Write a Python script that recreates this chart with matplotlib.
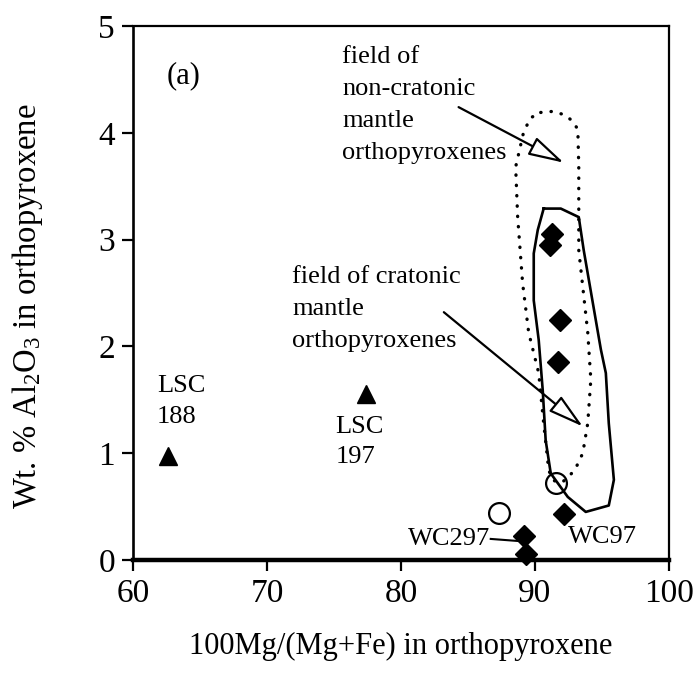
import matplotlib
matplotlib.use("Agg")
from matplotlib import pyplot as plt

plt.rcParams['font.family'] = ['Liberation Serif', 'DejaVu Serif']
plt.rcParams['mathtext.fontset'] = 'custom'
plt.rcParams['mathtext.rm'] = 'Liberation Serif'
plt.rcParams['mathtext.it'] = 'Liberation Serif:italic'

# orthopyroxene analyses: Mg# vs Al2O3 (wt.%)
diamond_mg = [91.3, 91.1, 91.9, 91.7, 92.2, 89.2, 89.3]
diamond_al = [3.05, 2.95, 2.25, 1.85, 0.43, 0.22, 0.06]
circle_mg = [87.3, 91.6]
circle_al = [0.44, 0.72]
triangle_mg = [62.6, 77.4]
triangle_al = [0.97, 1.55]

# outline of the cratonic mantle orthopyroxene field (solid)
craton_mg = [90.65, 91.93, 93.27, 93.64, 94.92, 95.29, 95.51, 95.89, 95.51,
             93.79, 92.45, 91.18, 90.80, 90.58, 90.28, 89.91, 89.91, 90.21, 90.65]
craton_al = [3.29, 3.29, 3.21, 2.90, 1.97, 1.75, 1.28, 0.75, 0.51,
             0.45, 0.59, 0.81, 1.12, 1.59, 2.06, 2.43, 2.87, 3.09, 3.29]

# outline of the non-cratonic mantle orthopyroxene field (dotted)
noncraton_mg = [90.43, 91.33, 92.15, 92.82, 93.20, 93.27, 93.27, 93.94, 94.17,
                93.94, 93.57, 93.12, 92.67, 92.15, 91.78, 91.33, 91.03, 90.65,
                90.28, 89.53, 89.08, 88.71, 88.56, 89.16, 89.68, 90.43]
noncraton_al = [4.19, 4.20, 4.17, 4.11, 4.03, 3.68, 2.90, 2.13, 1.69,
                1.28, 1.00, 0.88, 0.80, 0.74, 0.72, 0.75, 0.84, 1.28,
                1.75, 2.13, 2.59, 3.21, 3.68, 4.01, 4.14, 4.19]

fig = plt.figure(figsize=(6.94, 6.92), dpi=100)
ax = fig.add_axes([0.1916, 0.1908, 0.7723, 0.7717])

ax.plot(craton_mg, craton_al, color='black', lw=1.9, zorder=2)
ax.plot(noncraton_mg, noncraton_al, color='black', lw=2.4,
        linestyle=(0, (0.1, 3.0)), dash_capstyle='round', zorder=2)

ax.plot(diamond_mg, diamond_al, 'D', color='black', ms=11.5, zorder=5, clip_on=False)
ax.plot(circle_mg, circle_al, 'o', mfc='none', mec='black', mew=1.6, ms=15, zorder=5)
ax.plot(triangle_mg, triangle_al, '^', color='black', ms=13, zorder=5)


def block(x, y0, lines, step=0.3, size=19):
    # one text line per baseline, stepping down
    for i, s in enumerate(lines):
        ax.text(x, y0 - i * step, s, fontsize=size, va='baseline')


fs = 19
ax.text(62.5, 4.46, '(a)', fontsize=22, va='baseline')
block(75.6, 4.65, ['field of', 'non-cratonic', 'mantle', 'orthopyroxenes'])
block(71.9, 2.59, ['field of cratonic', 'mantle', 'orthopyroxenes'])
block(61.8, 1.57, ['LSC', '188'], step=0.29)
block(75.1, 1.19, ['LSC', '197'], step=0.28)
ax.text(80.55, 0.14, 'WC297', fontsize=fs, va='baseline')
ax.text(92.45, 0.16, 'WC97', fontsize=fs, va='baseline')
ax.plot([86.7, 88.7], [0.197, 0.178], color='black', lw=1.5)

arrow = dict(arrowstyle='-|>,head_length=1.1,head_width=0.3', mutation_scale=20,
             fc='white', ec='black', lw=1.6, shrinkA=0, shrinkB=0)
ax.annotate('', xy=(92.15, 3.72), xytext=(84.3, 4.24), arrowprops=arrow)
ax.annotate('', xy=(93.57, 1.25), xytext=(83.2, 2.32), arrowprops=arrow)

ax.set_xlim(60, 100)
ax.set_ylim(0, 5)
ax.set_xticks([60, 70, 80, 90, 100])
ax.set_yticks([0, 1, 2, 3, 4, 5])
ax.tick_params(direction='out', length=8, width=1.6, labelsize=24, pad=5)

for side in ['top', 'right']:
    ax.spines[side].set_linewidth(1.6)
ax.spines['left'].set_linewidth(1.9)
ax.spines['bottom'].set_linewidth(3.2)

ax.set_xlabel('100Mg/(Mg+Fe) in orthopyroxene', fontsize=22)
ax.xaxis.set_label_coords(0.5, -0.135)
ax.set_ylabel('Wt. % Al$_2$O$_3$ in orthopyroxene', fontsize=23.5)
ax.yaxis.set_label_coords(-0.165, 0.476)

plt.savefig('out.png', dpi=100)
